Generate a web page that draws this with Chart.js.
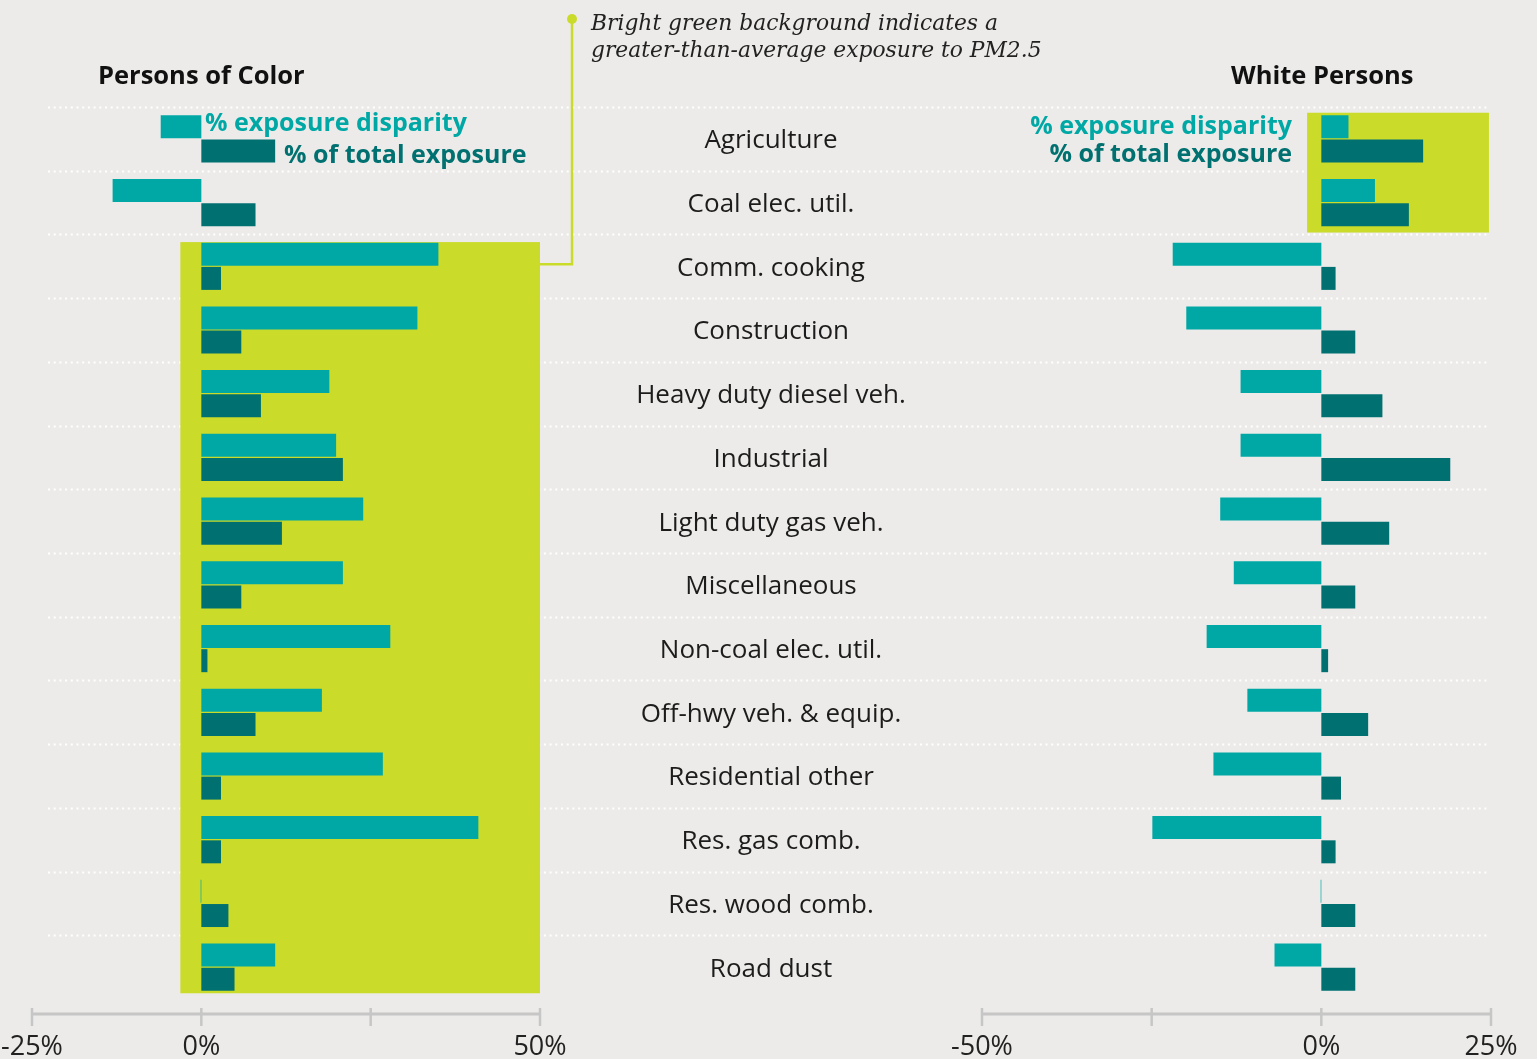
<!DOCTYPE html>
<html><head><meta charset="utf-8">
<script src="https://cdn.jsdelivr.net/npm/chart.js@4.4.1/dist/chart.umd.min.js"></script>
<style>
html,body{margin:0;padding:0;background:#ecebe9;width:1537px;height:1059px;overflow:hidden;font-family:"Open Sans",Lato,sans-serif}
#wrap{position:relative;width:1537px;height:1059px}
canvas{position:absolute;left:0;top:0}
.t{position:absolute;white-space:nowrap}
.title{font-weight:700;font-size:25.5px;color:#111;line-height:30px}
.leg{font-weight:700;font-size:25px;line-height:30px}
.note{font-family:"DejaVu Serif",serif;font-style:italic;font-size:21.8px;line-height:27px;color:#222}
</style></head><body>
<div id="wrap">
<canvas id="cL" width="1537" height="1059" style="width:1537px;height:1059px"></canvas>
<canvas id="cR" width="1537" height="1059" style="width:1537px;height:1059px"></canvas>
<div class="t title" style="left:98px;top:59px">Persons of Color</div>
<div class="t title" style="left:1231px;top:59px">White Persons</div>
<div class="t leg" style="left:205px;top:106px;color:#00a8a5">% exposure disparity</div>
<div class="t leg" style="left:284px;top:138px;color:#007170">% of total exposure</div>
<div class="t leg" style="right:245px;top:109px;color:#00a8a5;text-align:right">% exposure disparity</div>
<div class="t leg" style="right:245px;top:137px;color:#007170;text-align:right">% of total exposure</div>
<div class="t note" style="left:591px;top:9px">Bright green background indicates a<br>greater-than-average exposure to PM2.5</div>
</div>
<script>
const categories = ['Agriculture','Coal elec. util.','Comm. cooking','Construction','Heavy duty diesel veh.','Industrial','Light duty gas veh.','Miscellaneous','Non-coal elec. util.','Off-hwy veh. & equip.','Residential other','Res. gas comb.','Res. wood comb.','Road dust'];
const pocDisparity   = [-6, -13.1, 35, 31.9, 18.9, 19.9, 23.9, 20.9, 27.9, 17.8, 26.8, 40.9, -0.1, 10.9];
const pocTotal       = [10.9, 8, 2.9, 5.9, 8.8, 20.9, 11.9, 5.9, 0.9, 8, 2.9, 2.9, 4, 4.9];
const whiteDisparity = [4, 7.9, -21.9, -19.9, -11.9, -11.9, -14.9, -12.9, -16.9, -10.9, -15.9, -24.9, -0.1, -6.9];
const whiteTotal     = [15, 12.9, 2.1, 5, 9, 19, 10, 5, 1, 6.9, 2.9, 2.1, 5, 5];
const pocTickValues   = [-25, 0, 25, 50];
const pocTickLabels   = ['-25%', '0%', '', '50%'];
const whiteTickValues = [-50, -25, 0, 25];
const whiteTickLabels = ['-50%', '', '0%', '25%'];
// highlighted (greater-than-average exposure) category ranges
const pocHighlightCats   = [2, 13];
const whiteHighlightCats = [0, 1];

const TEAL = '#00a8a5', DARK = '#007170', LIME = '#cbdb2a', AXIS = '#c6c6c6';
const CAT_PCT = 0.76, BAR_PCT = 0.95;
const SANS = '"Open Sans", Lato, sans-serif';

function makeDatasets(a, b) {
  return [
    {label: '% exposure disparity', data: a, backgroundColor: TEAL, borderWidth: 0, barPercentage: BAR_PCT, categoryPercentage: CAT_PCT},
    {label: '% of total exposure', data: b, backgroundColor: DARK, borderWidth: 0, barPercentage: BAR_PCT, categoryPercentage: CAT_PCT}
  ];
}

function axisPlugin(tickValues, highlight) {
  return {
    id: 'custom',
    beforeDatasetsDraw(chart) {
      const ctx = chart.ctx, x = chart.scales.x, y = chart.scales.y;
      ctx.save();
      if (highlight.separators) {
        ctx.strokeStyle = '#ffffff';
        ctx.lineWidth = 2;
        ctx.setLineDash([2, 3.7]);
        for (let i = 0; i < categories.length; i++) {
          const py = Math.round(y.getPixelForValue(i - 0.5)) + 0.5;
          ctx.beginPath();
          ctx.moveTo(x.left + 16, py);
          ctx.lineTo(1490, py);
          ctx.stroke();
        }
        ctx.setLineDash([]);
      }
      ctx.fillStyle = LIME;
      const x0 = x.getPixelForValue(highlight.xFrom), x1 = x.getPixelForValue(highlight.xTo);
      const y0 = y.getPixelForValue(highlight.cats[0] + highlight.topOff);
      const y1 = y.getPixelForValue(highlight.cats[1] + highlight.botOff);
      ctx.fillRect(x0, y0, x1 - x0, y1 - y0);
      ctx.restore();
    },
    afterDraw(chart) {
      const ctx = chart.ctx, x = chart.scales.x, y = chart.scales.y;
      ctx.save();
      const ay = chart.chartArea.bottom + 15;
      ctx.strokeStyle = AXIS;
      ctx.lineWidth = 3;
      ctx.beginPath();
      ctx.moveTo(x.getPixelForValue(tickValues[0]), ay);
      ctx.lineTo(x.getPixelForValue(tickValues[tickValues.length - 1]), ay);
      ctx.stroke();
      ctx.lineWidth = 2.5;
      tickValues.forEach(v => {
        const px = x.getPixelForValue(v);
        ctx.beginPath();
        ctx.moveTo(px, ay - 6);
        ctx.lineTo(px, ay + 12);
        ctx.stroke();
      });
      if (highlight.labels) {
        ctx.fillStyle = '#1c1c1c';
        ctx.font = '26px ' + SANS;
        ctx.textAlign = 'center';
        ctx.textBaseline = 'middle';
        categories.forEach((c, i) => ctx.fillText(c, 771, y.getPixelForValue(i) + 2));
        // annotation connector
        const cx = 572, ly = y.getPixelForValue(highlight.cats[0]) - 2;
        ctx.strokeStyle = LIME;
        ctx.lineWidth = 2.5;
        ctx.beginPath();
        ctx.moveTo(cx, 19);
        ctx.lineTo(cx, ly);
        ctx.lineTo(x.getPixelForValue(highlight.xTo), ly);
        ctx.stroke();
        ctx.fillStyle = LIME;
        ctx.beginPath();
        ctx.arc(cx, 19, 5, 0, Math.PI * 2);
        ctx.fill();
      }
      ctx.restore();
    }
  };
}

function makeChart(id, d1, d2, min, max, tickValues, tickLabels, padding, highlight) {
  return new Chart(document.getElementById(id), {
    type: 'bar',
    data: {labels: categories, datasets: makeDatasets(d1, d2)},
    options: {
      indexAxis: 'y',
      responsive: false,
      animation: false,
      devicePixelRatio: 1,
      layout: {padding: padding},
      plugins: {legend: {display: false}, tooltip: {enabled: false}},
      scales: {
        y: {display: false, offset: true},
        x: {
          min: min, max: max,
          afterFit(s) { s.height = 60; s.paddingLeft = 0; s.paddingRight = 0; },
          afterBuildTicks(s) { s.ticks = tickValues.map(v => ({value: v})); },
          grid: {display: false, drawTicks: false},
          border: {display: false},
          ticks: {
            padding: 32,
            color: '#222',
            font: {family: SANS, size: 27},
            maxRotation: 0,
            autoSkip: false,
            callback: (v) => tickLabels[tickValues.indexOf(v)]
          }
        }
      }
    },
    plugins: [axisPlugin(tickValues, highlight)]
  });
}

makeChart('cL', pocDisparity, pocTotal, -25, 50, pocTickValues, pocTickLabels,
  {left: 32, right: 997, top: 107, bottom: 0},
  {separators: true, labels: true, xFrom: -3.1, xTo: 50, cats: pocHighlightCats, topOff: -0.38, botOff: 0.41});
makeChart('cR', whiteDisparity, whiteTotal, -50, 25, whiteTickValues, whiteTickLabels,
  {left: 982, right: 46, top: 107, bottom: 0},
  {separators: false, labels: false, xFrom: -2.1, xTo: 24.7, cats: whiteHighlightCats, topOff: -0.41, botOff: 0.47});
</script>
</body></html>
